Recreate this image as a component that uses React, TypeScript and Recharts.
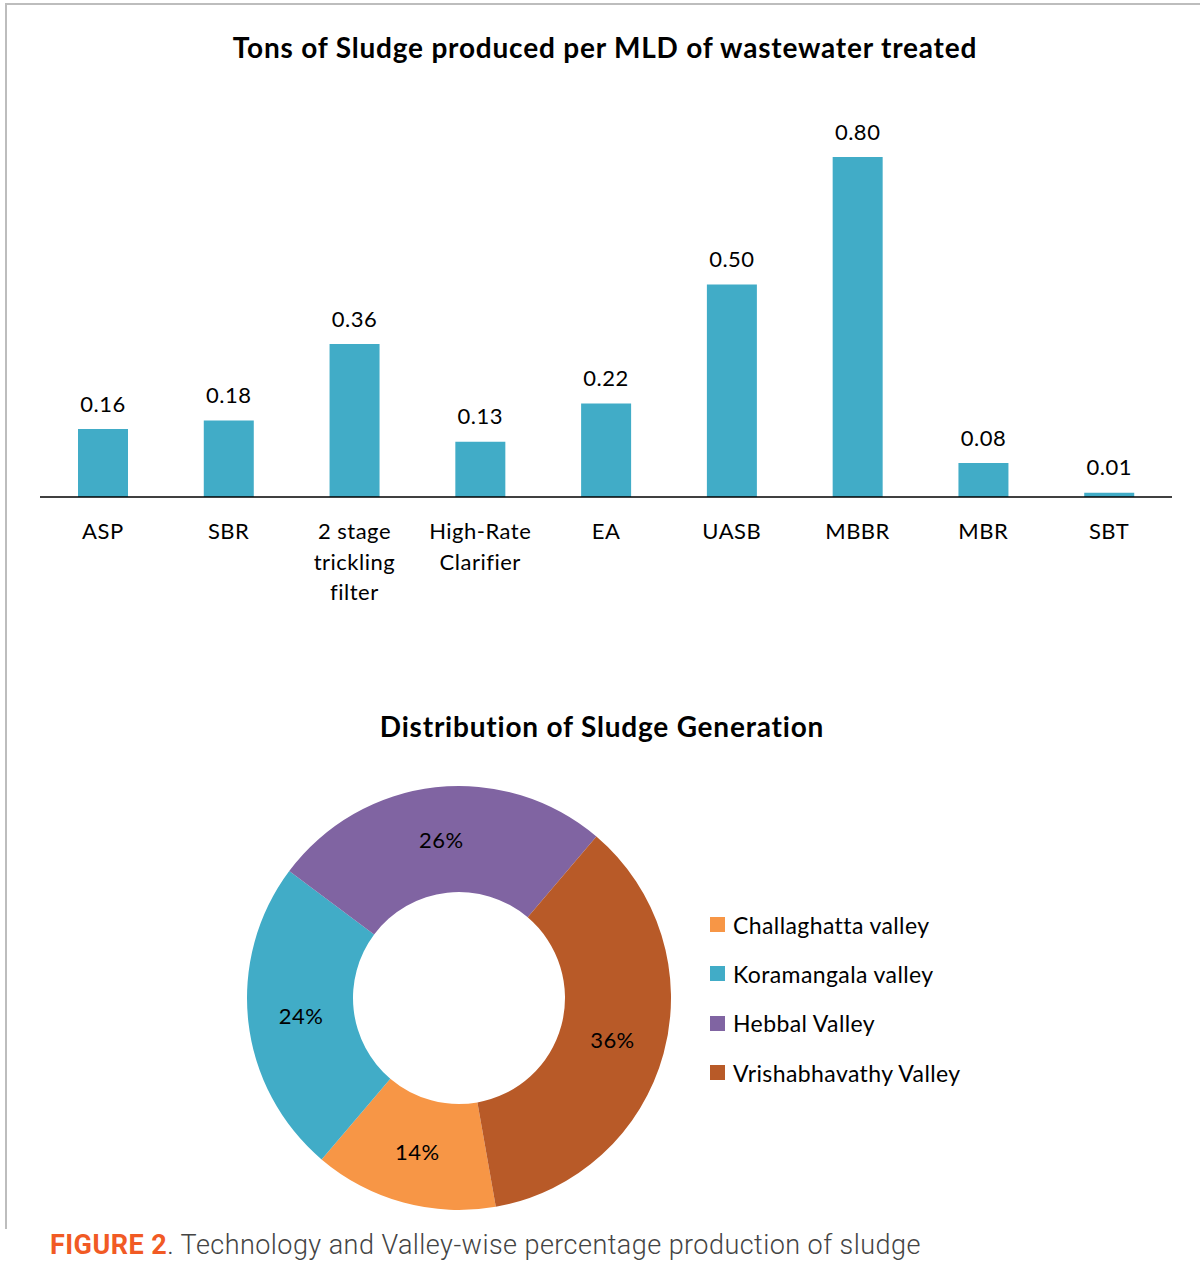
import React from 'react'
import { BarChart, Bar, XAxis, YAxis, LabelList, PieChart, Pie, Cell, Legend } from 'recharts'

const categories = ['ASP', 'SBR', '2 stage trickling filter', 'High-Rate Clarifier', 'EA', 'UASB', 'MBBR', 'MBR', 'SBT']
const sludgePerMld = [0.16, 0.18, 0.36, 0.13, 0.22, 0.5, 0.8, 0.08, 0.01]

const valleys = ['Challaghatta valley', 'Koramangala valley', 'Hebbal Valley', 'Vrishabhavathy Valley']
const valleyShares = [14, 24, 26, 36]
const valleyColors = ['#F79646', '#41ACC7', '#8064A2', '#B85A28']

const barData = categories.map((name, i) => ({ name, value: sludgePerMld[i] }))
const pieData = valleys.map((name, i) => ({ name, value: valleyShares[i] }))

const FONT = 'Lato, "Noto Sans", sans-serif'
const RADIAN = Math.PI / 180

function wrapWords(text: string, max: number) {
  const lines: string[] = []
  let cur = ''
  for (const w of text.split(' ')) {
    if (cur && (cur + ' ' + w).length > max) {
      lines.push(cur)
      cur = w
    } else {
      cur = cur ? cur + ' ' + w : w
    }
  }
  if (cur) lines.push(cur)
  return lines
}

function CategoryTick({ x, y, payload }: any) {
  const lines = wrapWords(String(payload.value), 9)
  return (
    <text x={x} y={y} textAnchor="middle" fontFamily={FONT} fontSize={22} letterSpacing={0.5} fill="#000">
      {lines.map((l, i) => (
        <tspan key={i} x={x} dy={i === 0 ? 42 : 30.5}>
          {l}
        </tspan>
      ))}
    </text>
  )
}

function BarValue(props: any) {
  const { x, y, width, value } = props
  return (
    <text
      x={Number(x) + Number(width) / 2}
      y={Number(y) - 26}
      textAnchor="middle"
      dominantBaseline="central"
      fontFamily={FONT}
      fontSize={22}
      letterSpacing={0.5}
      fill="#000"
    >
      {Number(value).toFixed(2)}
    </text>
  )
}

function sliceLabel({ cx, cy, midAngle, innerRadius, outerRadius, value }: any) {
  const r = (innerRadius + outerRadius) / 2
  const x = cx + r * Math.cos(-midAngle * RADIAN)
  const y = cy + r * Math.sin(-midAngle * RADIAN)
  return (
    <text
      x={x}
      y={y}
      textAnchor="middle"
      dominantBaseline="central"
      fontFamily={FONT}
      fontSize={22}
      letterSpacing={0.4}
      fill="#000"
    >
      {value}%
    </text>
  )
}

function ValleyLegend({ payload }: any) {
  const items = [...(payload || [])].sort((a: any, b: any) => valleys.indexOf(a.value) - valleys.indexOf(b.value))
  return (
    <div>
      {items.map((item: any) => (
        <div key={item.value} style={{ display: 'flex', alignItems: 'center', height: 49.3 }}>
          <span style={{ width: 15, height: 15, background: item.color, display: 'inline-block', marginRight: 8 }} />
          <span style={{ fontFamily: FONT, fontSize: 23, letterSpacing: 0.4, color: '#000' }}>{item.value}</span>
        </div>
      ))}
    </div>
  )
}

const titleStyle: React.CSSProperties = {
  position: 'absolute',
  transform: 'translateX(-50%)',
  whiteSpace: 'nowrap',
  fontFamily: FONT,
  fontWeight: 700,
  fontSize: 28,
  letterSpacing: 0.8,
  height: 40,
  lineHeight: '40px',
  color: '#000',
}

export default function App() {
  return (
    <div style={{ position: 'absolute', top: 0, left: 0, width: 1200, height: 1268, background: '#fff', overflow: 'hidden' }}>
      <div
        style={{
          position: 'absolute',
          top: 3,
          left: 5,
          width: 1200,
          height: 1224,
          borderTop: '2px solid #bdbdbd',
          borderLeft: '2px solid #bdbdbd',
        }}
      />
      <div style={{ ...titleStyle, left: 605, top: 27 }}>Tons of Sludge produced per MLD of wastewater treated</div>

      <div style={{ position: 'absolute', top: 0, left: 0 }}>
        <BarChart width={1200} height={620} data={barData} margin={{ top: 157, right: 28, left: 40, bottom: 10 }}>
          <YAxis hide domain={[0, 0.8]} />
          <XAxis
            dataKey="name"
            interval={0}
            height={113}
            tickLine={false}
            tickSize={0}
            tickMargin={0}
            axisLine={{ stroke: '#000', strokeWidth: 1.5 }}
            tick={<CategoryTick />}
          />
          <Bar dataKey="value" fill="#41ACC7" barSize={50} isAnimationActive={false}>
            <LabelList dataKey="value" content={<BarValue />} />
          </Bar>
        </BarChart>
      </div>

      <div style={{ ...titleStyle, left: 602, top: 706 }}>Distribution of Sludge Generation</div>

      <div style={{ position: 'absolute', top: 680, left: 0 }}>
        <PieChart width={1200} height={560} margin={{ top: 0, right: 0, bottom: 0, left: 0 }}>
          <Pie
            data={pieData}
            dataKey="value"
            nameKey="name"
            cx={459}
            cy={318}
            innerRadius={106}
            outerRadius={212}
            startAngle={-80}
            endAngle={-440}
            stroke="none"
            label={sliceLabel}
            labelLine={false}
            isAnimationActive={false}
          >
            {pieData.map((d, i) => (
              <Cell key={d.name} fill={valleyColors[i]} />
            ))}
          </Pie>
          <Legend
            layout="vertical"
            content={<ValleyLegend />}
            wrapperStyle={{ position: 'absolute', left: 710, top: 220, width: 340 }}
          />
        </PieChart>
      </div>

      <div
        style={{
          position: 'absolute',
          left: 50,
          top: 1227,
          height: 36,
          lineHeight: '36px',
          whiteSpace: 'nowrap',
          fontFamily: 'Roboto, sans-serif',
          fontWeight: 300,
          fontSize: 27,
          letterSpacing: 0.45,
          color: '#444',
        }}
      >
        <span style={{ color: '#F15A24', fontWeight: 700 }}>FIGURE 2</span>. Technology and Valley-wise percentage production of sludge
      </div>
    </div>
  )
}
